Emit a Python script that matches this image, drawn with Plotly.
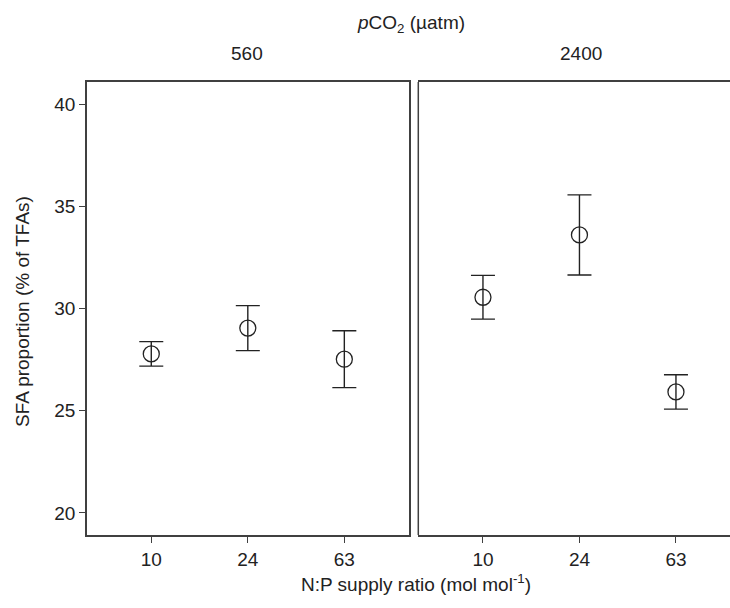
import plotly.graph_objects as go

ratios = ["10", "24", "63"]
co2_levels = ["560", "2400"]
mean_560 = [27.78, 29.04, 27.52]
err_560 = [0.60, 1.10, 1.39]
mean_2400 = [30.55, 33.60, 25.92]
err_2400 = [1.07, 1.96, 0.84]
y_ticks = [20, 25, 30, 35, 40]

W, H = 730, 608
FONT = "Liberation Sans, Arial, sans-serif"
INK = "#222222"
AX = "#404040"
FS = 19

fig = go.Figure()
for i, (m, e) in enumerate([(mean_560, err_560), (mean_2400, err_2400)]):
    fig.add_trace(go.Scatter(
        x=[0, 1, 2], y=m, mode="markers",
        xaxis="x" if i == 0 else "x2", yaxis="y" if i == 0 else "y2",
        marker=dict(symbol="circle-open", size=16, color=INK, line=dict(width=1.3, color=INK)),
        error_y=dict(type="data", array=e, visible=True, color=INK, thickness=1.4, width=12),
        showlegend=False, hoverinfo="y"))

px = lambda v: v / W
py = lambda v: 1 - v / H

ydom = [py(535), py(82)]
yr = [18.92, 41.08]
common_x = dict(tickmode="array", tickvals=[0, 1, 2], ticktext=ratios,
                ticks="outside", ticklen=6, tickwidth=1.3, tickcolor=AX,
                showline=True, linecolor=AX, linewidth=1.5, mirror=True,
                showgrid=False, zeroline=False,
                tickfont=dict(family=FONT, size=FS, color=INK))
fig.update_layout(
    width=W, height=H, margin=dict(l=0, r=0, t=0, b=0),
    plot_bgcolor="white", paper_bgcolor="white",
    xaxis=dict(domain=[px(87), px(409)], range=[-0.666, 2.67], anchor="y", **common_x),
    xaxis2=dict(domain=[px(418.3), 1.0], range=[-0.67, 2.56], anchor="y2", **common_x),
    yaxis=dict(domain=ydom, range=yr, anchor="x", tickvals=y_ticks,
               ticks="outside", ticklen=6, tickwidth=1.3, tickcolor=AX,
               showline=True, linecolor=AX, linewidth=1.5, mirror=True,
               showgrid=False, zeroline=False,
               tickfont=dict(family=FONT, size=FS, color=INK)),
    yaxis2=dict(domain=ydom, range=yr, anchor="x2", showticklabels=False,
                ticks="", showline=False, showgrid=False, zeroline=False),
)
fig.add_shape(type="line", xref="x2 domain", yref="y2 domain", x0=0, x1=0, y0=0, y1=1,
              line=dict(color=AX, width=1.5))

ann = [
    dict(text="<i>p</i>CO<sub>2</sub> (µatm)", x=px(411), y=py(24)),
    dict(text=co2_levels[0], x=px(247), y=py(53)),
    dict(text=co2_levels[1], x=px(581), y=py(53)),
    dict(text="N:P supply ratio (mol mol<sup>-1</sup>)", x=px(416), y=py(583)),
]
for a in ann:
    fig.add_annotation(text=a["text"], x=a["x"], y=a["y"], xref="paper", yref="paper",
                       showarrow=False, xanchor="center", yanchor="middle",
                       font=dict(family=FONT, size=FS, color=INK))
fig.add_annotation(text="SFA proportion (% of TFAs)", x=px(22), y=py(312), xref="paper", yref="paper",
                   showarrow=False, textangle=-90, xanchor="center", yanchor="middle",
                   font=dict(family=FONT, size=FS, color=INK))

fig.write_html("out.html", config={"displayModeBar": False})
with open("out.html", encoding="utf-8") as f:
    html = f.read()
html = html.replace("<head>", "<head><style>html,body{margin:0;padding:0;overflow:hidden;}</style>", 1)
with open("out.html", "w", encoding="utf-8") as f:
    f.write(html)
